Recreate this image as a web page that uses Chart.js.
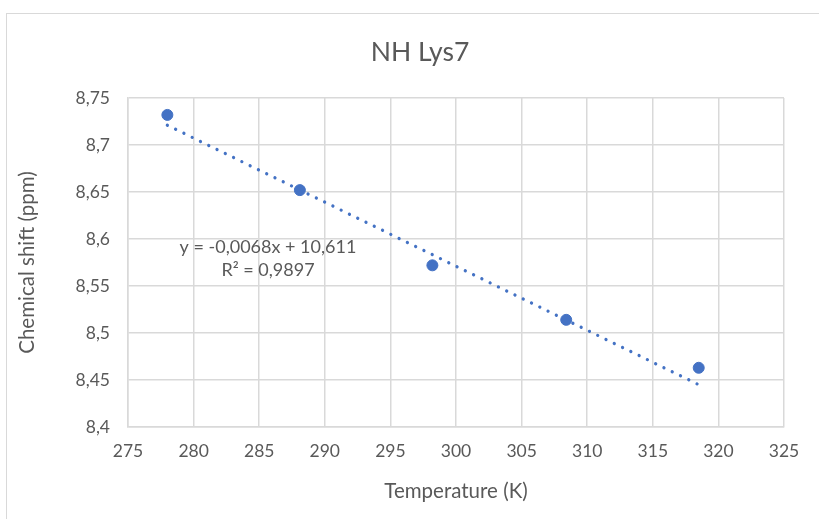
<!DOCTYPE html>
<html>
<head>
<meta charset="utf-8">
<script src="https://cdn.jsdelivr.net/npm/chart.js@4"></script>
<style>
  html, body { margin: 0; padding: 0; background: #fff; overflow: hidden; }
  #wrap { position: relative; width: 819px; height: 519px; }
  #frame { position: absolute; left: 6px; top: 13px; width: 840px; height: 540px; border: 1px solid #d9d9d9; box-sizing: border-box; }
  canvas { position: absolute; left: 0; top: 0; }
</style>
</head>
<body>
<div id="wrap">
  <div id="frame"></div>
  <canvas id="chart" width="819" height="519"></canvas>
</div>
<script>
// data
const temperatures = [278, 288.1, 298.2, 308.4, 318.5];
const shifts = [8.732, 8.652, 8.572, 8.514, 8.463];
// linear trendline endpoints (as drawn)
const trendX = [278, 318.5];
const trendY = [8.721, 8.445];
const equationLines = ['y = -0,0068x + 10,611', 'R² = 0,9897'];

const blue = '#4472C4';
const textGray = '#595959';
const gridGray = '#d9d9d9';
const fontFamily = 'Lato, "Open Sans", sans-serif';

const commaDecimal = v => String(Math.round(v * 1000) / 1000).replace('.', ',');

// title and equation label drawn on canvas
const labelsPlugin = {
    id: 'labels',
    afterDraw(chart) {
        const c = chart.ctx;
        c.save();
        c.fillStyle = textGray;
        c.textAlign = 'center';
        c.textBaseline = 'middle';
        c.font = '26.5px ' + fontFamily;
        c.fillText('NH Lys7', 420, 52);
        c.font = '18px ' + fontFamily;
        c.fillText(equationLines[0], 268, 247);
        c.fillText(equationLines[1], 268, 270);
        c.restore();
    }
};

const ctx = document.getElementById('chart').getContext('2d');
new Chart(ctx, {
    type: 'scatter',
    data: {
        datasets: [{
            label: 'shift',
            data: temperatures.map((t, i) => ({ x: t, y: shifts[i] })),
            backgroundColor: blue,
            borderColor: blue,
            pointRadius: 5.5,
            pointHoverRadius: 5.5,
            order: 1
        }, {
            label: 'trend',
            type: 'line',
            data: trendX.map((t, i) => ({ x: t, y: trendY[i] })),
            borderColor: blue,
            borderWidth: 3.3,
            borderDash: [0.01, 9.2],
            borderCapStyle: 'round',
            pointRadius: 0,
            fill: false,
            order: 2
        }]
    },
    options: {
        responsive: false,
        animation: false,
        layout: { padding: { left: 0, right: 35, top: 98, bottom: 0 } },
        plugins: {
            legend: { display: false },
            tooltip: { enabled: false }
        },
        scales: {
            x: {
                type: 'linear',
                min: 275,
                max: 325,
                afterFit: scale => { scale.height = 92; },
                ticks: {
                    stepSize: 5,
                    color: textGray,
                    padding: 14,
                    font: { family: fontFamily, size: 17.5 }
                },
                grid: { color: gridGray, lineWidth: 1.5, drawTicks: false },
                border: { color: gridGray, width: 1.5 },
                title: {
                    display: true,
                    text: 'Temperature (K)',
                    color: textGray,
                    padding: { top: 4, bottom: 15 },
                    font: { family: fontFamily, size: 20.5 }
                }
            },
            y: {
                min: 8.4,
                max: 8.75,
                afterFit: scale => { scale.width = 128; },
                ticks: {
                    stepSize: 0.05,
                    color: textGray,
                    padding: 18,
                    font: { family: fontFamily, size: 17.5 },
                    callback: v => commaDecimal(v)
                },
                grid: { color: gridGray, lineWidth: 1.5, drawTicks: false },
                border: { color: gridGray, width: 1.5 },
                title: {
                    display: true,
                    text: 'Chemical shift (ppm)',
                    color: textGray,
                    padding: { top: 15 },
                    font: { family: fontFamily, size: 20.5 }
                }
            }
        }
    },
    plugins: [labelsPlugin]
});
</script>
</body>
</html>
